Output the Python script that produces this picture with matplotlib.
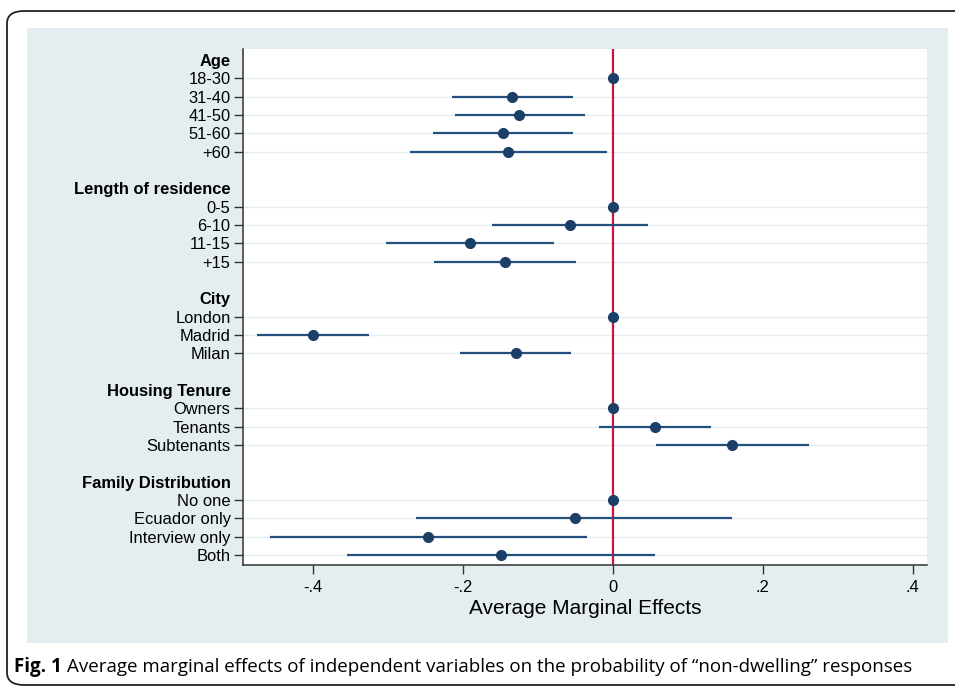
import matplotlib
matplotlib.use("Agg")
import matplotlib.pyplot as plt
from matplotlib.patches import FancyBboxPatch, Rectangle

# Groups and their categories (top to bottom)
groups = ["Age", "Length of residence", "City", "Housing Tenure", "Family Distribution"]
labels = [
    ["18-30", "31-40", "41-50", "51-60", "+60"],
    ["0-5", "6-10", "11-15", "+15"],
    ["London", "Madrid", "Milan"],
    ["Owners", "Tenants", "Subtenants"],
    ["No one", "Ecuador only", "Interview only", "Both"],
]
# Average marginal effects and 95% CI
ame = [
    [0, -0.135, -0.125, -0.147, -0.140],
    [0, -0.057, -0.191, -0.144],
    [0, -0.400, -0.129],
    [0, 0.056, 0.159],
    [0, -0.051, -0.246, -0.149],
]
lower = [
    [0, -0.215, -0.211, -0.240, -0.271],
    [0, -0.161, -0.303, -0.239],
    [0, -0.475, -0.204],
    [0, -0.019, 0.057],
    [0, -0.262, -0.457, -0.354],
]
upper = [
    [0, -0.053, -0.037, -0.053, -0.008],
    [0, 0.047, -0.079, -0.049],
    [0, -0.325, -0.056],
    [0, 0.131, 0.262],
    [0, 0.159, -0.035, 0.056],
]
xticks = [-0.4, -0.2, 0, 0.2, 0.4]
xticklabels = ["-.4", "-.2", "0", ".2", ".4"]

navy = "#1b3f66"
line_col = "#24507e"
panel_col = "#e4eef0"
grid_col = "#e2edf2"

fig = plt.figure(figsize=(9.55, 6.88), dpi=100)
W, H = 955, 688

# outer rounded frame
frame = FancyBboxPatch((7 / W, 3 / H), 1.2, (685 - 11) / H,
                       boxstyle="round,pad=0,rounding_size=0.018",
                       transform=fig.transFigure, fill=False,
                       edgecolor="#222222", linewidth=1.3, zorder=-5)
fig.patches.append(frame)

# light panel behind the chart
panel = Rectangle((27 / W, (H - 643) / H), (948 - 27) / W, (643 - 28) / H,
                  transform=fig.transFigure, facecolor=panel_col,
                  edgecolor="none", zorder=-5)
fig.patches.append(panel)

ax = fig.add_axes([243 / W, (H - 565) / H, (927 - 243) / W, (565 - 49) / H])
ax.set_facecolor("white")
ax.set_zorder(2)

# build rows: header, items, blank
positions, tick_labels, is_header = [], [], []
row = 0
for g, (name, labs) in enumerate(zip(groups, labels)):
    positions.append(row)
    tick_labels.append(name)
    is_header.append(True)
    row += 1
    for i, lab in enumerate(labs):
        positions.append(row)
        tick_labels.append(lab)
        is_header.append(False)
        # light horizontal gridline
        ax.axhline(row, color=grid_col, lw=1, zorder=1)
        ax.plot([lower[g][i], upper[g][i]], [row, row], color=line_col,
                lw=1.6, zorder=3, solid_capstyle="butt")
        ax.plot(ame[g][i], row, "o", color=navy, markersize=7, zorder=4)
        row += 1
    row += 1

ax.axvline(0, color="#c8163a", lw=1.6, zorder=2)

ax.set_xlim(-0.493, 0.419)
ax.set_ylim(27.55, -0.6)

ax.set_yticks(positions)
ax.set_yticklabels(tick_labels, fontsize=11.9, family="Liberation Sans")
for tick, hdr in zip(ax.yaxis.get_major_ticks(), is_header):
    if hdr:
        tick.tick1line.set_visible(False)
        tick.label1.set_fontweight("bold")

ax.set_xticks(xticks)
ax.set_xticklabels(xticklabels, fontsize=11.9, family="Liberation Sans")
ax.tick_params(axis="both", direction="out", length=6.5, width=1, color="#333333")
ax.tick_params(axis="y", pad=2.5)
ax.tick_params(axis="x", pad=4)

for s in ["top", "right"]:
    ax.spines[s].set_visible(False)
for s in ["left", "bottom"]:
    ax.spines[s].set_color("#333333")
    ax.spines[s].set_linewidth(1.1)

ax.set_xlabel("Average Marginal Effects", fontsize=15, family="Liberation Sans",
              labelpad=3)

# caption
fig.canvas.draw()
r = fig.canvas.get_renderer()
t1 = fig.text(14 / W, (H - 667) / H, "Fig. 1", fontsize=13.5, fontweight="bold",
              family="Open Sans", va="center", ha="left")
bb = t1.get_window_extent(renderer=r)
fig.text((bb.x1 + 5) / W, (H - 667) / H,
         "Average marginal effects of independent variables on the probability of \u201cnon-dwelling\u201d responses",
         fontsize=13.5, family="Open Sans", va="center", ha="left")

fig.savefig("out.png", dpi=100)
